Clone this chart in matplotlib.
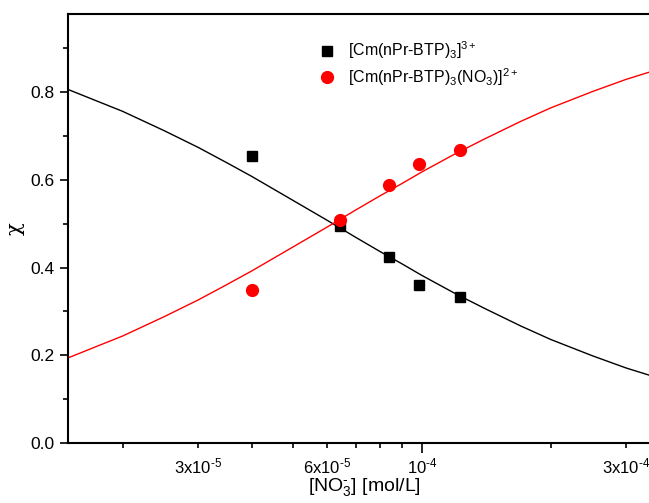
import matplotlib
matplotlib.use("Agg")
import matplotlib.pyplot as plt
from matplotlib.ticker import FixedLocator, FixedFormatter, NullFormatter

plt.rcParams['font.family'] = ['Liberation Sans', 'DejaVu Sans']
plt.rcParams['mathtext.fontset'] = 'custom'
plt.rcParams['mathtext.rm'] = 'Liberation Sans'
plt.rcParams['mathtext.it'] = 'Liberation Sans:italic'
plt.rcParams['mathtext.bf'] = 'Liberation Sans:bold'
plt.rcParams['mathtext.default'] = 'regular'

# measured points
conc = [4.0e-5, 6.43e-5, 8.37e-5, 9.84e-5, 1.227e-4]
chi_free = [0.654, 0.495, 0.424, 0.360, 0.333]      # [Cm(nPr-BTP)3]3+
chi_nitrate = [0.349, 0.508, 0.588, 0.636, 0.668]   # [Cm(nPr-BTP)3(NO3)]2+

# fit curves
fit_conc = [1.49e-5, 2e-5, 2.5e-5, 3e-5, 3.5e-5, 4e-5, 5e-5, 6e-5, 7e-5, 8e-5, 9e-5,
            1e-4, 1.2e-4, 1.4e-4, 1.7e-4, 2e-4, 2.5e-4, 3e-4, 3.6e-4]
fit_free = [0.806, 0.756, 0.712, 0.674, 0.639, 0.608, 0.553, 0.508, 0.469, 0.436, 0.408,
            0.382, 0.340, 0.307, 0.267, 0.236, 0.199, 0.171, 0.147]
fit_nitrate = [0.194, 0.244, 0.288, 0.326, 0.361, 0.392, 0.447, 0.492, 0.531, 0.564, 0.592,
               0.618, 0.660, 0.693, 0.733, 0.764, 0.801, 0.829, 0.853]

x_ticks = [3e-5, 6e-5, 1e-4, 3e-4]
x_tick_labels = ['3x10$^{\u20105}$', '6x10$^{\u20105}$', '10$^{\u20104}$', '3x10$^{\u20104}$']
x_minor = [2e-5, 4e-5, 5e-5, 7e-5, 8e-5, 9e-5, 2e-4]

fig = plt.figure(figsize=(6.49, 5.03), dpi=100)
ax = fig.add_axes([68 / 649, 60 / 503, 592 / 649, 429 / 503])

ax.plot(fit_conc, fit_free, color='black', lw=1)
ax.plot(fit_conc, fit_nitrate, color='red', lw=1)
ax.plot(conc, chi_free, 's', color='black', ms=7.5, ls='none',
        label='[Cm(nPr-BTP)$_3$]$^{3+}$')
ax.plot(conc, chi_nitrate, 'o', color='red', ms=8.5, ls='none',
        label='[Cm(nPr-BTP)$_3$(NO$_3$)]$^{2+}$')

ax.set_xscale('log')
ax.set_xlim(1.49e-5, 3.6e-4)
ax.set_ylim(0, 0.978)

ax.xaxis.set_major_locator(FixedLocator(x_ticks))
ax.xaxis.set_major_formatter(FixedFormatter(x_tick_labels))
ax.xaxis.set_minor_locator(FixedLocator(x_minor))
ax.xaxis.set_minor_formatter(NullFormatter())
ax.set_yticks([0.0, 0.2, 0.4, 0.6, 0.8])
ax.set_yticks([0.1, 0.3, 0.5, 0.7, 0.9], minor=True)
ax.yaxis.set_major_formatter(plt.FuncFormatter(lambda v, p: f"{v:.1f}"))

ax.tick_params(which='major', direction='out', length=6, width=1.2, labelsize=12.5)
ax.tick_params(which='minor', direction='out', length=3.5, width=1.2)
ax.tick_params(axis='x', which='major', length=3.5, pad=6, labelsize=12)
# only 10^-4 gets a long tick on x
for t, v in zip(ax.xaxis.get_major_ticks(), x_ticks):
    if v == 1e-4:
        t.tick1line.set_markersize(7.5)
for s in ax.spines.values():
    s.set_linewidth(1.5)

ax.set_xlabel('[NO$_3^{\u2010}$] [mol/L]', fontsize=14, labelpad=0)
ax.set_ylabel('χ', fontsize=15, family=['DejaVu Serif'], labelpad=4)

ax.legend(loc='upper left', bbox_to_anchor=(0.4, 0.955), frameon=False,
          fontsize=11.5, handletextpad=0.3, labelspacing=0.3, borderaxespad=0)

fig.savefig('out.png', dpi=100)
